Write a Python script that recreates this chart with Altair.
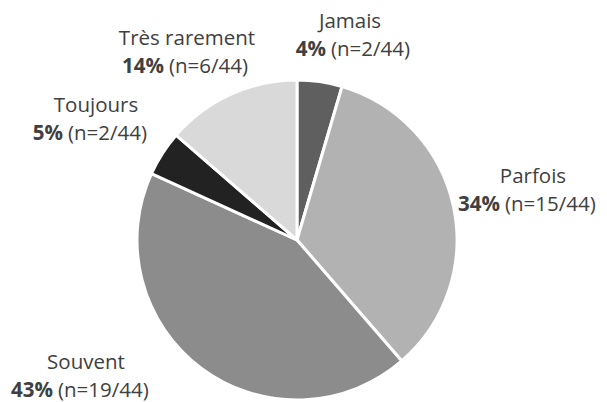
import altair as alt
import pandas as pd

# Data
categories = ["Jamais", "Parfois", "Souvent", "Toujours", "Très rarement"]
counts = [2, 15, 19, 2, 6]
total = 44
percents = ["4%", "34%", "43%", "5%", "14%"]
colors = ["#5f5f5f", "#b2b2b2", "#8c8c8c", "#222222", "#d9d9d9"]

# Label layout (pixel positions in chart coords)
label_cx = [342, 525, 78, 88, 179]
label_y1 = [14, 169, 355, 98, 31]
label_split = [318, 492, 45, 55, 156]

df = pd.DataFrame({
    "cat": categories,
    "n": counts,
    "idx": list(range(len(categories))),
})

lab = pd.DataFrame({
    "cat": categories,
    "pct": percents,
    "nlab": [f"(n={c}/{total})" for c in counts],
    "cx": label_cx,
    "y1": label_y1,
    "y2": [y + 28 for y in label_y1],
    "sx": label_split,
})

FONT = "Open Sans"
FS = 20.5
TC = "#404040"

pie = alt.Chart(df).mark_arc(radius=160, stroke="white", strokeWidth=3).encode(
    theta=alt.Theta("n:Q", stack=True),
    order=alt.Order("idx:Q"),
    color=alt.Color("cat:N", scale=alt.Scale(domain=categories, range=colors), legend=None),
    x=alt.value(289),
    y=alt.value(232),
)

line1 = alt.Chart(lab).mark_text(font=FONT, fontSize=FS, color=TC, align="center", baseline="middle").encode(
    x=alt.X("cx:Q", scale=None), y=alt.Y("y1:Q", scale=None), text="cat:N"
)
bold = alt.Chart(lab).mark_text(font=FONT, fontSize=FS, fontWeight="bold", color=TC, align="right", baseline="middle").encode(
    x=alt.X("sx:Q", scale=None), y=alt.Y("y2:Q", scale=None), text="pct:N"
)
norm = alt.Chart(lab).mark_text(font=FONT, fontSize=FS, color=TC, align="left", baseline="middle", dx=5).encode(
    x=alt.X("sx:Q", scale=None), y=alt.Y("y2:Q", scale=None), text="nlab:N"
)

chart = alt.layer(pie, line1, bold, norm).properties(
    width=591, height=394, padding=0, autosize=alt.AutoSizeParams(type="none")
).configure_view(stroke=None)

chart.save("out.html", embed_options={"renderer": "svg", "actions": False})
